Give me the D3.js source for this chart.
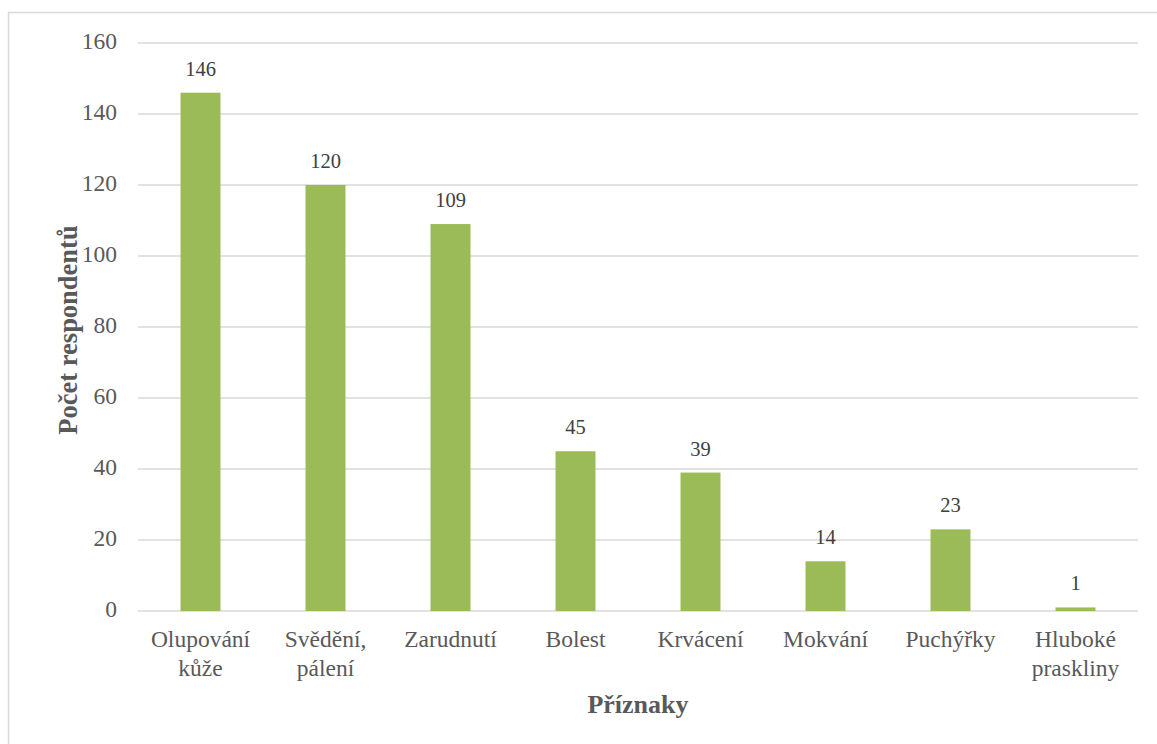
<!DOCTYPE html>
<html><head><meta charset="utf-8">
<script src="https://cdn.jsdelivr.net/npm/d3@7"></script>
<style>body{margin:0;background:#fff}</style>
</head><body>
<svg id="c" width="1157" height="744"></svg>
<script>
const categories = [["Olupování","kůže"],["Svědění,","pálení"],["Zarudnutí"],["Bolest"],["Krvácení"],["Mokvání"],["Puchýřky"],["Hluboké","praskliny"]];
const values = [146,120,109,45,39,14,23,1];
const yTicks = [0,20,40,60,80,100,120,140,160];
const yTitle = "Počet respondentů";
const xTitle = "Příznaky";

(function(){
const FF = "Liberation Serif";
const svg = d3.select("#c");
svg.append("rect").attr("x",8.5).attr("y",12.5).attr("width",1160).attr("height",760)
  .attr("fill","#fff").attr("stroke","#d9d9d9").attr("stroke-width",1.5);

const pl=138, pr=1138, pt=43, pb=611;
const x = d3.scaleBand().domain(d3.range(categories.length)).range([pl,pr]).paddingInner(0.68).paddingOuter(0.34);
const y = d3.scaleLinear().domain([0,160]).range([pb,pt]);

svg.append("g").selectAll("line").data(yTicks).join("line")
  .attr("x1",pl).attr("x2",pr).attr("y1",d=>y(d)).attr("y2",d=>y(d))
  .attr("stroke","#d9d9d9").attr("stroke-width",1.5);

const yAxis = d3.axisLeft(y).tickValues(yTicks).tickSize(0).tickPadding(21);
const ga = svg.append("g").attr("transform",`translate(${pl},0)`).call(yAxis);
ga.select(".domain").remove();
ga.selectAll("text").style("font-family",FF).style("font-size","23.5px").attr("fill","#595959").attr("dy","0.25em");

svg.append("g").selectAll("rect").data(values).join("rect")
  .attr("x",(d,i)=>x(i)).attr("width",x.bandwidth())
  .attr("y",d=>y(d)).attr("height",d=>pb-y(d)).attr("fill","#9bbb59");

svg.append("g").selectAll("text").data(values).join("text")
  .attr("x",(d,i)=>x(i)+x.bandwidth()/2).attr("y",d=>y(d)-17)
  .attr("text-anchor","middle").style("font-family",FF).style("font-size","20.5px").attr("fill","#404040")
  .text(d=>d);

const xl = svg.append("g");
categories.forEach((c,i)=>{
  const cx = x(i)+x.bandwidth()/2;
  const t = xl.append("text").attr("x",cx).attr("y",647)
    .attr("text-anchor","middle").style("font-family",FF).style("font-size","23.5px").attr("fill","#595959");
  c.forEach((ln,j)=>t.append("tspan").attr("x",cx).attr("dy",j?29:0).text(ln));
});

svg.append("text").attr("x",638).attr("y",713).attr("text-anchor","middle")
  .style("font-family",FF).style("font-size","26px").style("font-weight","bold").attr("fill","#595959").text(xTitle);
svg.append("text").attr("transform","translate(77,330) rotate(-90)").attr("text-anchor","middle")
  .style("font-family",FF).style("font-size","26.5px").style("font-weight","bold").attr("fill","#595959").text(yTitle);
})();
</script>
</body></html>
